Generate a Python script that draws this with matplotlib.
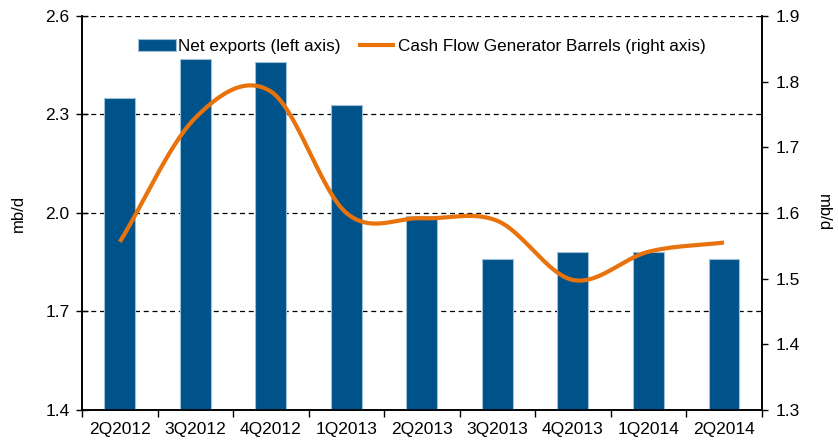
import numpy as np
import matplotlib
matplotlib.use('Agg')
import matplotlib.pyplot as plt

plt.rcParams['font.family'] = ['Liberation Sans', 'DejaVu Sans']

quarters = ["2Q2012", "3Q2012", "4Q2012", "1Q2013", "2Q2013",
            "3Q2013", "4Q2013", "1Q2014", "2Q2014"]
net_exports = [2.35, 2.47, 2.46, 2.33, 1.99, 1.86, 1.88, 1.88, 1.86]
cfg_barrels = [1.556, 1.745, 1.785, 1.600, 1.592, 1.588, 1.498, 1.541, 1.555]


def smooth(xs, ys, n=30):
    # catmull-rom style smoothing, like the spreadsheet "smoothed line"
    xs = np.asarray(xs, float)
    ys = np.asarray(ys, float)
    px = np.concatenate([[xs[0]], xs, [xs[-1]]])
    py = np.concatenate([[ys[0]], ys, [ys[-1]]])
    outx, outy = [], []
    for i in range(1, len(px) - 2):
        t = np.linspace(0, 1, n)
        x0, x1 = px[i], px[i + 1]
        y0, y1 = py[i], py[i + 1]
        m0 = (py[i + 1] - py[i - 1]) / 2 if i > 1 else (y1 - y0)
        m1 = (py[i + 2] - py[i]) / 2 if i < len(px) - 3 else (y1 - y0)
        h00 = 2 * t**3 - 3 * t**2 + 1
        h10 = t**3 - 2 * t**2 + t
        h01 = -2 * t**3 + 3 * t**2
        h11 = t**3 - t**2
        outx.extend(x0 + (x1 - x0) * t)
        outy.extend(h00 * y0 + h10 * m0 + h01 * y1 + h11 * m1)
    return np.array(outx), np.array(outy)


fig = plt.figure(figsize=(8.38, 4.43), dpi=100)
ax = fig.add_axes([0.098, 0.0745, 0.811, 0.8894])
ax2 = ax.twinx()

x = np.arange(len(quarters))
bars = ax.bar(x, net_exports, width=0.41, color='#00538A', edgecolor='#9DBFD8',
              linewidth=0.8, label='Net exports (left axis)', zorder=3)

sx, sy = smooth(x, cfg_barrels)
line, = ax2.plot(sx, sy, color='#E8720C', linewidth=3, solid_capstyle='butt',
                 label='Cash Flow Generator Barrels (right axis)')

ax.set_xlim(-0.5, len(quarters) - 0.5)
ax.set_ylim(1.4, 2.6)
ax.set_yticks([1.4, 1.7, 2.0, 2.3, 2.6])
ax.set_yticklabels(['1.4', '1.7', '2.0', '2.3', '2.6'])
ax2.set_ylim(1.3, 1.9)
ax2.set_yticks(np.round(np.arange(1.3, 1.91, 0.1), 1))
ax2.set_yticklabels([f'{v:.1f}' for v in np.arange(1.3, 1.91, 0.1)])

for v in [1.7, 2.0, 2.3, 2.6]:
    ax.axhline(v, color='black', linestyle=(0, (4, 3)), linewidth=0.9, zorder=1)

ax.set_xticks(x)
ax.set_xticklabels(quarters)
ax.set_xticks(np.arange(-0.5, len(quarters), 1), minor=True)
ax.tick_params(axis='x', which='major', length=0, labelsize=12.5, pad=9)
ax.tick_params(axis='x', which='minor', length=5, direction='out', width=1)
ax.tick_params(axis='y', direction='inout', length=8, width=1, labelsize=12.5, pad=5)
ax2.tick_params(axis='y', direction='out', length=4, width=1, labelsize=12.5, pad=6)

for a in (ax, ax2):
    a.spines['top'].set_visible(False)
    for s in ('left', 'right', 'bottom'):
        a.spines[s].set_linewidth(1.2)

ax.set_ylabel('mb/d', fontsize=12, labelpad=14)
ax2.set_ylabel('mb/d', fontsize=12, rotation=270, labelpad=22)

ax2.legend([bars, line], [bars.get_label(), line.get_label()], loc='upper center',
           bbox_to_anchor=(0.5, 0.98), ncol=2, frameon=False, fontsize=12.3,
           handlelength=2.2, handletextpad=0.15, columnspacing=1.0)

fig.savefig('out.png', dpi=100)
